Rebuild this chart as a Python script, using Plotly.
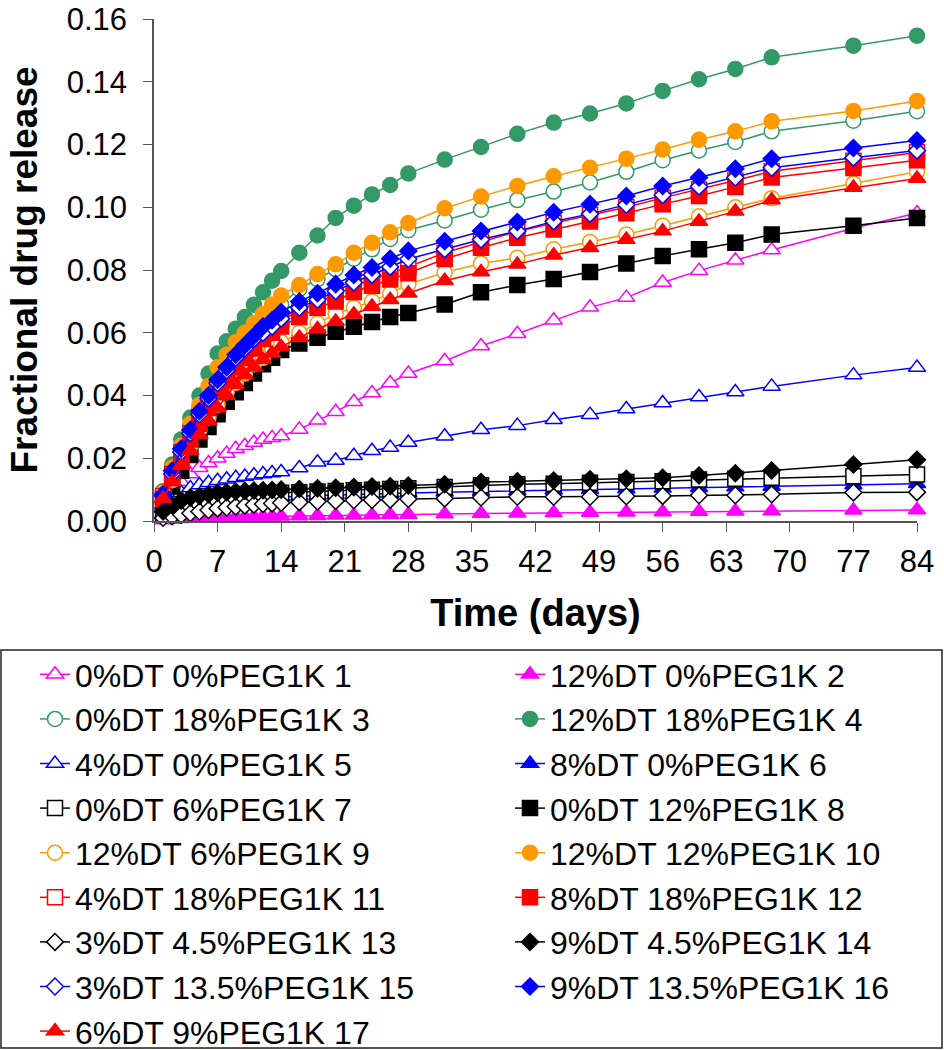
import plotly.graph_objects as go

days = [1, 2, 3, 4, 5, 6, 7, 8, 9, 10, 11, 12, 13, 14, 16, 18, 20, 22, 24, 26, 28,
        32, 36, 40, 44, 48, 52, 56, 60, 64, 68, 77, 84]

names = ["0%DT 0%PEG1K 1", "12%DT 0%PEG1K 2", "0%DT 18%PEG1K 3", "12%DT 18%PEG1K 4",
         "4%DT 0%PEG1K 5", "8%DT 0%PEG1K 6", "0%DT 6%PEG1K 7", "0%DT 12%PEG1K 8",
         "12%DT 6%PEG1K 9", "12%DT 12%PEG1K 10", "4%DT 18%PEG1K 11", "8%DT 18%PEG1K 12",
         "3%DT 4.5%PEG1K 13", "9%DT 4.5%PEG1K 14", "3%DT 13.5%PEG1K 15", "9%DT 13.5%PEG1K 16",
         "6%DT 9%PEG1K 17"]

s1 = [0.0050, 0.0095, 0.0125, 0.0150, 0.0170, 0.0185, 0.0200, 0.0215, 0.0230, 0.0240, 0.0250,
      0.0260, 0.0265, 0.0271, 0.0292, 0.0321, 0.0348, 0.0380, 0.0408, 0.0440, 0.0470,
      0.0510, 0.0558, 0.0597, 0.0640, 0.0681, 0.0712, 0.0760, 0.0798, 0.0831, 0.0864, 0.0933, 0.0982]
s2 = [0.0003, 0.0005, 0.0007, 0.0008, 0.0009, 0.0010, 0.0011, 0.0012, 0.0013, 0.0013, 0.0014,
      0.0014, 0.0015, 0.0015, 0.0016, 0.0017, 0.0018, 0.0018, 0.0019, 0.0020, 0.0021,
      0.0022, 0.0024, 0.0025, 0.0026, 0.0027, 0.0028, 0.0029, 0.0030, 0.0031, 0.0032, 0.0034, 0.0035]
s3 = [0.0088, 0.0165, 0.0235, 0.0300, 0.0360, 0.0410, 0.0460, 0.0500, 0.0540, 0.0570, 0.0600,
      0.0630, 0.0660, 0.0690, 0.0739, 0.0771, 0.0803, 0.0836, 0.0866, 0.0899, 0.0927,
      0.0958, 0.0992, 0.1023, 0.1050, 0.1079, 0.1113, 0.1150, 0.1181, 0.1208, 0.1242, 0.1276, 0.1306]
s4 = [0.0095, 0.0180, 0.0260, 0.0330, 0.0400, 0.0470, 0.0534, 0.0573, 0.0613, 0.0650, 0.0689,
      0.0729, 0.0766, 0.0797, 0.0855, 0.0910, 0.0966, 0.1005, 0.1041, 0.1071, 0.1108,
      0.1152, 0.1192, 0.1234, 0.1270, 0.1299, 0.1331, 0.1371, 0.1408, 0.1441, 0.1478, 0.1515, 0.1547]
s5 = [0.0040, 0.0070, 0.0090, 0.0105, 0.0115, 0.0122, 0.0128, 0.0133, 0.0138, 0.0142, 0.0146,
      0.0150, 0.0153, 0.0156, 0.0169, 0.0187, 0.0193, 0.0208, 0.0224, 0.0234, 0.0250,
      0.0270, 0.0291, 0.0304, 0.0323, 0.0339, 0.0357, 0.0376, 0.0395, 0.0411, 0.0429, 0.0465, 0.0489]
s6 = [0.0020, 0.0030, 0.0040, 0.0045, 0.0050, 0.0055, 0.0060, 0.0063, 0.0066, 0.0069, 0.0071,
      0.0073, 0.0075, 0.0077, 0.0079, 0.0081, 0.0083, 0.0085, 0.0086, 0.0088, 0.0089,
      0.0092, 0.0094, 0.0096, 0.0098, 0.0100, 0.0102, 0.0104, 0.0106, 0.0108, 0.0110, 0.0115, 0.0119]
s7 = [0.0020, 0.0035, 0.0045, 0.0055, 0.0060, 0.0065, 0.0070, 0.0075, 0.0078, 0.0081, 0.0084,
      0.0086, 0.0088, 0.0090, 0.0092, 0.0094, 0.0096, 0.0098, 0.0100, 0.0102, 0.0104,
      0.0108, 0.0114, 0.0117, 0.0119, 0.0122, 0.0124, 0.0127, 0.0132, 0.0135, 0.0138, 0.0143, 0.0148]
s8 = [0.0060, 0.0110, 0.0160, 0.0210, 0.0260, 0.0300, 0.0340, 0.0380, 0.0410, 0.0440, 0.0470,
      0.0500, 0.0520, 0.0545, 0.0566, 0.0584, 0.0603, 0.0619, 0.0634, 0.0650, 0.0663,
      0.0690, 0.0729, 0.0752, 0.0771, 0.0794, 0.0821, 0.0845, 0.0866, 0.0887, 0.0913, 0.0941, 0.0966]
s9 = [0.0065, 0.0130, 0.0190, 0.0240, 0.0290, 0.0330, 0.0370, 0.0410, 0.0440, 0.0470, 0.0500,
      0.0520, 0.0550, 0.0570, 0.0600, 0.0630, 0.0660, 0.0680, 0.0700, 0.0725, 0.0755,
      0.0792, 0.0821, 0.0839, 0.0866, 0.0889, 0.0913, 0.0941, 0.0971, 0.1000, 0.1029, 0.1076, 0.1113]
s10 = [0.0090, 0.0170, 0.0240, 0.0310, 0.0370, 0.0430, 0.0490, 0.0530, 0.0570, 0.0600, 0.0630,
       0.0660, 0.0690, 0.0719, 0.0752, 0.0787, 0.0818, 0.0855, 0.0887, 0.0920, 0.0950,
       0.0997, 0.1034, 0.1068, 0.1099, 0.1126, 0.1155, 0.1184, 0.1215, 0.1242, 0.1274, 0.1307, 0.1339]
s11 = [0.0080, 0.0150, 0.0220, 0.0280, 0.0330, 0.0380, 0.0430, 0.0470, 0.0510, 0.0540, 0.0570,
       0.0600, 0.0620, 0.0640, 0.0670, 0.0700, 0.0720, 0.0750, 0.0770, 0.0790, 0.0810,
       0.0855, 0.0890, 0.0923, 0.0950, 0.0975, 0.1000, 0.1030, 0.1057, 0.1085, 0.1115, 0.1148, 0.1175]
s12 = [0.0070, 0.0140, 0.0200, 0.0260, 0.0310, 0.0360, 0.0410, 0.0450, 0.0490, 0.0520, 0.0550,
       0.0580, 0.0600, 0.0620, 0.0650, 0.0680, 0.0700, 0.0730, 0.0750, 0.0770, 0.0790,
       0.0835, 0.0871, 0.0903, 0.0929, 0.0955, 0.0981, 0.1010, 0.1036, 0.1065, 0.1095, 0.1125, 0.1150]
s13 = [0.0010, 0.0015, 0.0020, 0.0025, 0.0030, 0.0035, 0.0040, 0.0043, 0.0046, 0.0049, 0.0052,
       0.0054, 0.0056, 0.0058, 0.0060, 0.0062, 0.0064, 0.0066, 0.0067, 0.0068, 0.0070,
       0.0072, 0.0075, 0.0077, 0.0077, 0.0077, 0.0079, 0.0080, 0.0082, 0.0082, 0.0085, 0.0091, 0.0092]
s14 = [0.0030, 0.0050, 0.0065, 0.0075, 0.0080, 0.0085, 0.0090, 0.0092, 0.0094, 0.0096, 0.0097,
       0.0098, 0.0099, 0.0100, 0.0102, 0.0104, 0.0106, 0.0108, 0.0110, 0.0111, 0.0113,
       0.0117, 0.0124, 0.0127, 0.0129, 0.0133, 0.0135, 0.0138, 0.0145, 0.0152, 0.0161, 0.0180, 0.0195]
s15 = [0.0080, 0.0150, 0.0220, 0.0280, 0.0340, 0.0390, 0.0440, 0.0480, 0.0520, 0.0550, 0.0580,
       0.0600, 0.0620, 0.0645, 0.0680, 0.0705, 0.0733, 0.0760, 0.0785, 0.0810, 0.0835,
       0.0866, 0.0897, 0.0924, 0.0955, 0.0979, 0.1008, 0.1039, 0.1066, 0.1095, 0.1126, 0.1158, 0.1181]
s16 = [0.0085, 0.0160, 0.0230, 0.0290, 0.0350, 0.0400, 0.0450, 0.0490, 0.0530, 0.0560, 0.0590,
       0.0620, 0.0640, 0.0666, 0.0700, 0.0726, 0.0755, 0.0784, 0.0808, 0.0836, 0.0861,
       0.0892, 0.0924, 0.0953, 0.0984, 0.1010, 0.1036, 0.1068, 0.1095, 0.1123, 0.1155, 0.1189, 0.1213]
s17 = [0.0072, 0.0124, 0.0177, 0.0224, 0.0275, 0.0320, 0.0360, 0.0400, 0.0435, 0.0465, 0.0490,
       0.0515, 0.0535, 0.0555, 0.0585, 0.0612, 0.0636, 0.0659, 0.0684, 0.0705, 0.0726,
       0.0766, 0.0794, 0.0818, 0.0847, 0.0871, 0.0897, 0.0924, 0.0955, 0.0987, 0.1023, 0.1063, 0.1092]

series = [s1, s2, s3, s4, s5, s6, s7, s8, s9, s10, s11, s12, s13, s14, s15, s16, s17]

yticks = [0.00, 0.02, 0.04, 0.06, 0.08, 0.10, 0.12, 0.14, 0.16]
xticks = [0, 7, 14, 21, 28, 35, 42, 49, 56, 63, 70, 77, 84]

MAG, GRN, BLU, BLK, ORG, RED = "#FF00FF", "#339966", "#0000FF", "#000000", "#FF9900", "#FF0000"
colors = [MAG, MAG, GRN, GRN, BLU, BLU, BLK, BLK, ORG, ORG, RED, RED, BLK, BLK, BLU, BLU, RED]
symbols = ["triangle-up", "triangle-up", "circle", "circle", "triangle-up", "triangle-up",
           "square", "square", "circle", "circle", "square", "square",
           "diamond", "diamond", "diamond", "diamond", "triangle-up"]
filled = [False, True, False, True, False, True, False, True, False, True, False, True,
          False, True, False, True, True]

FONT = "Liberation Sans, Arial, sans-serif"

fig = go.Figure()
for i, (nm, ys) in enumerate(zip(names, series)):
    c = colors[i]
    sym = symbols[i]
    size = 13 if sym == "diamond" else 15
    fig.add_trace(go.Scatter(
        x=days, y=ys, name=nm, mode="lines+markers",
        line=dict(color=c, width=1.5),
        marker=dict(symbol=sym, size=size,
                    color=c if filled[i] else "white",
                    line=dict(color=c, width=1.5)),
        cliponaxis=False,
        legend="legend" if i % 2 == 0 else "legend2",
    ))

PL, PR, PT, PB = 154, 917, 19, 521
W, H = 944, 1050
pw, ph = PR - PL, PB - PT

def px_x(x):
    return (x - PL) / pw

def px_y(y):
    return (PB - y) / ph

LEG_TOP = 647
fig.update_layout(
    width=W, height=H,
    margin=dict(l=PL, r=W - PR, t=PT, b=H - PB, autoexpand=False),
    paper_bgcolor="white", plot_bgcolor="white",
    font=dict(family=FONT, color="black", size=32),
    showlegend=True,
    legend=dict(x=px_x(35), y=px_y(LEG_TOP), xanchor="left", yanchor="top",
                bgcolor="rgba(0,0,0,0)", borderwidth=0,
                font=dict(family=FONT, size=32, color="black")),
    legend2=dict(x=px_x(510), y=px_y(LEG_TOP), xanchor="left", yanchor="top",
                 bgcolor="rgba(0,0,0,0)", borderwidth=0,
                 font=dict(family=FONT, size=32, color="black")),
    shapes=[dict(type="rect", xref="paper", yref="paper",
                 x0=px_x(1), x1=px_x(942), y0=px_y(1048), y1=px_y(650),
                 line=dict(color="#222222", width=1.5), fillcolor="rgba(0,0,0,0)")],
)

fig.update_xaxes(
    range=[0, 84], tickmode="array", tickvals=xticks, automargin=False,
    showgrid=False, zeroline=False, showline=True, linecolor="#555555", linewidth=1.5,
    ticks="outside", ticklen=9, tickcolor="#555555", tickwidth=1.2, ticklabeloverflow="allow",
    tickfont=dict(family=FONT, size=31, color="black"), ticklabelstandoff=3,
    title=dict(text="<b>Time (days)</b>", font=dict(family=FONT, size=38, color="black"), standoff=21),
)
fig.update_yaxes(
    range=[0, 0.16001], tickmode="array", tickvals=yticks, tickformat=".2f", automargin=False,
    showgrid=False, zeroline=False, showline=True, linecolor="#555555", linewidth=1.5,
    ticks="outside", ticklen=9, tickcolor="#555555", tickwidth=1.2, ticklabeloverflow="allow",
    tickfont=dict(family=FONT, size=31, color="black"), ticklabelstandoff=10,
    title=dict(text="<b>Fractional drug release</b>", font=dict(family=FONT, size=37, color="black"), standoff=18),
)

fig.write_html("out.html", config={"displayModeBar": False},
               post_script="document.body.style.margin='0px';document.body.style.padding='0px';")
